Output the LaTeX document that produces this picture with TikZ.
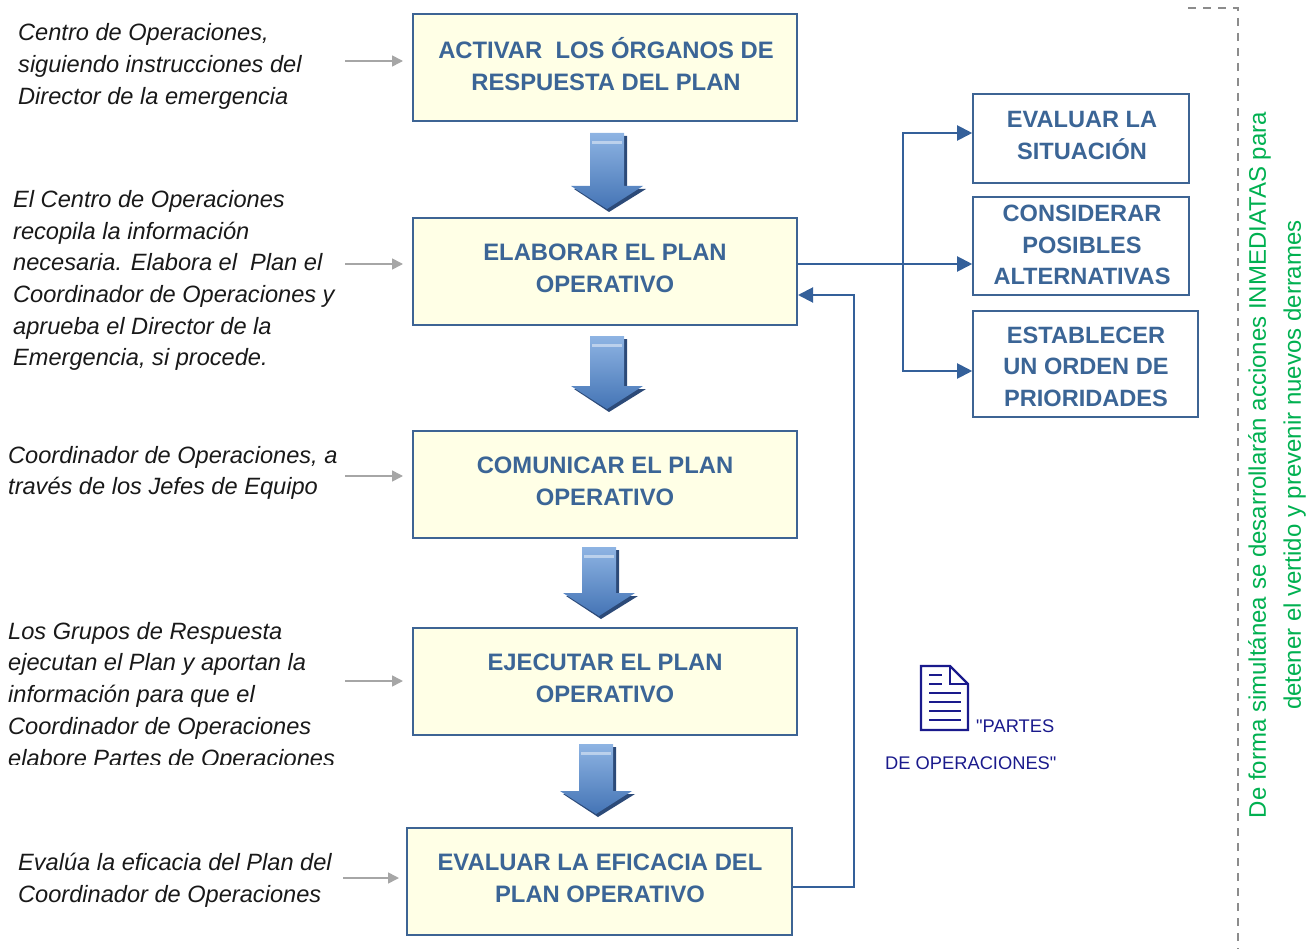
\documentclass[tikz,border=0pt]{standalone}
\usepackage{fontspec}
\setmainfont{Liberation Sans}
\newfontfamily\rawsans[Ligatures=TeXOff]{Liberation Sans}
\usetikzlibrary{arrows.meta,calc}
\definecolor{boxfill}{HTML}{FFFFE6}
\definecolor{boxdraw}{HTML}{3D6494}
\definecolor{boxtext}{HTML}{3B6596}
\definecolor{conn}{HTML}{34609A}
\definecolor{grayarr}{HTML}{A6A6A6}
\definecolor{greentext}{HTML}{00B050}
\definecolor{navyicon}{HTML}{1A1A8C}
\definecolor{arrtop}{HTML}{8EB4E3}
\definecolor{arrbot}{HTML}{4474B5}
\definecolor{arrshadow}{HTML}{2C4A78}
\definecolor{dashgray}{HTML}{8C8C8C}
\tikzset{
  stepbox/.style={draw=boxdraw, line width=2pt, fill=boxfill, inner sep=0pt},
  sidebox/.style={draw=boxdraw, line width=1.6pt, fill=white, inner sep=0pt},
  boxlabel/.style={inner sep=0pt, text=boxtext, font=\bfseries\fontsize{23.8}{32}\selectfont, align=center},
  sidelabel/.style={inner sep=0pt, text=boxtext, font=\bfseries\fontsize{23.6}{31.5}\selectfont, align=center},
  note/.style={inner sep=0pt, anchor=west, align=left, text=black!90,
    font=\itshape\fontsize{23.6}{31.7}\selectfont},
  doclabel/.style={anchor=base west, inner sep=0pt, text=navyicon, font=\rawsans\fontsize{18.3}{22}\selectfont},
  grayline/.style={draw=grayarr, line width=1.6pt, -{Triangle[length=11pt,width=11pt]}},
  blueline/.style={draw=conn, line width=2pt, -{Triangle[length=15pt,width=15pt]}},
  dashline/.style={draw=dashgray, line width=2pt, dash pattern=on 8pt off 7pt},
}
\newcommand\blkarr[3]{%
  \fill[arrshadow] ({#1-17+3},{#2+3}) -- ({#1+17+3},{#2+3}) -- ({#1+17+3},{#3-23+3}) -- ({#1+36+3},{#3-23+3}) -- ({#1+2},{#3+3}) -- ({#1-36+3},{#3-23+3}) -- ({#1-17+3},{#3-23+3}) -- cycle;
  \shade[top color=arrtop, bottom color=arrbot] ({#1-17},{#2}) -- ({#1+17},{#2}) -- ({#1+17},{#3-23}) -- ({#1+36},{#3-23}) -- ({#1},{#3}) -- ({#1-36},{#3-23}) -- ({#1-17},{#3-23}) -- cycle;
  \fill[white, opacity=0.45] ({#1-15},{#2+8}) rectangle ({#1+15},{#2+11});
}
\begin{document}
\begin{tikzpicture}[x=1pt,y=-1pt]
\useasboundingbox (0,0) rectangle (1313,949);

% main boxes
\node[stepbox, minimum width=384pt, minimum height=107pt] (b1) at (605,67.5) {};
\node[stepbox, minimum width=384pt, minimum height=107pt] (b2) at (605,271.5) {};
\node[stepbox, minimum width=384pt, minimum height=107pt] (b3) at (605,484.5) {};
\node[stepbox, minimum width=384pt, minimum height=107pt] (b4) at (605,681.5) {};
\node[stepbox, minimum width=385pt, minimum height=107pt] (b5) at (599.5,881.5) {};
\node[boxlabel] (b1t) at (606,64.5) {ACTIVAR\ \ LOS ÓRGANOS DE\\RESPUESTA DEL PLAN};
\node[boxlabel] (b2t) at (605,268.5) {ELABORAR EL PLAN\\OPERATIVO};
\node[boxlabel] (b3t) at (605,481.5) {COMUNICAR EL PLAN\\OPERATIVO};
\node[boxlabel] (b4t) at (605,678.5) {EJECUTAR EL PLAN\\OPERATIVO};
\node[boxlabel] (b5t) at (600,878.5) {EVALUAR LA EFICACIA DEL\\PLAN OPERATIVO};

% side boxes
\node[sidebox, minimum width=216pt, minimum height=89pt] (r1) at (1081,138.5) {};
\node[sidebox, minimum width=216pt, minimum height=98pt] (r2) at (1081,246) {};
\node[sidebox, minimum width=225pt, minimum height=106pt] (r3) at (1085.5,364) {};
\node[sidelabel] (r1t) at (1082,135.5) {EVALUAR LA\\SITUACIÓN};
\node[sidelabel] (r2t) at (1082,245) {CONSIDERAR\\POSIBLES\\ALTERNATIVAS};
\node[sidelabel] (r3t) at (1086,366.5) {ESTABLECER\\UN ORDEN DE\\PRIORIDADES};

% block arrows
\blkarr{607}{133}{209}
\blkarr{607}{336}{409}
\blkarr{599}{547}{616}
\blkarr{596}{744}{814}

% left notes
\node[note] (t1) at (18,66.5) {Centro de Operaciones,\\siguiendo instrucciones del\\Director de la emergencia};
\node[note] (t2) at (13,280.5) {El Centro de Operaciones\\recopila la información\\necesaria. Elabora el\ \ Plan el\\Coordinador de Operaciones y\\aprueba el Director de la\\Emergencia, si procede.};
\node[note] (t3) at (8,473) {Coordinador de Operaciones, a\\través de los Jefes de Equipo};
\begin{scope}
\clip (0,600) rectangle (400,764);
\node[note] (t4) at (8,696.5) {Los Grupos de Respuesta\\ejecutan el Plan y aportan la\\información para que el\\Coordinador de Operaciones\\elabore Partes de Operaciones};
\end{scope}
\node[note] (t5) at (18,880) {Evalúa la eficacia del Plan del\\Coordinador de Operaciones};

% gray arrows
\coordinate (g1a) at (345,61);  \coordinate (g1b) at (403,61);
\coordinate (g2a) at (345,264); \coordinate (g2b) at (403,264);
\coordinate (g3a) at (345,476); \coordinate (g3b) at (403,476);
\coordinate (g4a) at (345,681); \coordinate (g4b) at (403,681);
\coordinate (g5a) at (343,878); \coordinate (g5b) at (399,878);
\draw[grayline] (g1a) -- (g1b);
\draw[grayline] (g2a) -- (g2b);
\draw[grayline] (g3a) -- (g3b);
\draw[grayline] (g4a) -- (g4b);
\draw[grayline] (g5a) -- (g5b);

% blue connectors
\coordinate (s) at ([yshift=7.5pt]b2.east);
\coordinate (jn) at (903,264);
\draw[blueline] (s) -- (s -| r2.west);
\draw[blueline] (jn) |- ([yshift=5.5pt]r1.west);
\draw[blueline] (jn) |- ([yshift=-7pt]r3.west);
\draw[blueline] ([yshift=-5.5pt]b5.east) -- ++(61,0) |- ([yshift=-23.5pt]b2.east);

% document icon
\draw[navyicon, line width=2.4pt, line join=miter] (921,666) -- (950,666) -- (968,684) -- (968,730) -- (921,730) -- cycle;
\draw[navyicon, line width=2pt] (950,666) -- (950,684) -- (968,684);
\foreach \yy in {675,684} \draw[navyicon, line width=2pt] (929,\yy) -- (942,\yy);
\foreach \yy in {693,702,711,720} \draw[navyicon, line width=2pt] (929,\yy) -- (961,\yy);
\node[doclabel] (p1) at (976,732) {"PARTES};
\node[doclabel] (p2) at (885,769) {DE OPERACIONES"};

% dashed bracket
\coordinate (d0) at (1188,8);
\coordinate (d1) at (1238,8);
\coordinate (d2) at (1238,949);
\draw[dashline] (d0) -- (d1) -- (d2);

% vertical text
\node[rotate=90, inner sep=0pt, align=center, text=greentext, font=\fontsize{24}{35}\selectfont] (vt) at (1277,465) {De forma simultánea se desarrollarán acciones INMEDIATAS para\\detener el vertido y prevenir nuevos derrames};
\end{tikzpicture}
\end{document}
